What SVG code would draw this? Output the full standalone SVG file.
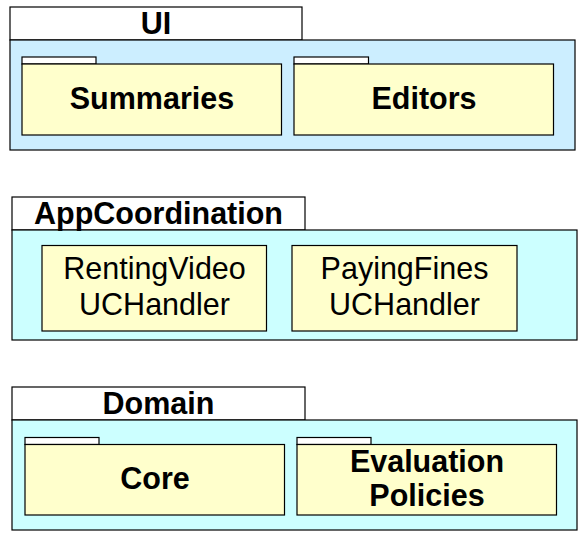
<svg xmlns="http://www.w3.org/2000/svg" width="583" height="537" viewBox="0 0 583 537">
<style>
rect{stroke:#000;stroke-width:1.2}
.tab{fill:#fff}
.ui{fill:#cceeff}
.cy{fill:#ccffff}
.pk{fill:#ffffcc}
text{font-family:"Liberation Sans",Arial,sans-serif;font-size:30.5px;text-anchor:middle;fill:#000}
.b{font-weight:bold}
</style>
<rect width="583" height="537" fill="#fff" style="stroke:none"/>
<g id="UI">
<rect class="tab" x="10" y="7" width="292" height="33"/>
<rect class="ui" x="10" y="40" width="565" height="110"/>
<text class="b" x="156" y="34">UI</text>
</g>
<g id="Summaries">
<rect class="tab" x="22" y="57" width="74" height="7"/>
<rect class="pk" x="22" y="64" width="259.5" height="71"/>
<text class="b" x="152" y="109">Summaries</text>
</g>
<g id="Editors">
<rect class="tab" x="294" y="57" width="74.5" height="7"/>
<rect class="pk" x="294" y="64" width="259.5" height="71"/>
<text class="b" x="424" y="109">Editors</text>
</g>
<g id="AppCoordination">
<rect class="tab" x="12" y="197" width="293" height="33"/>
<rect class="cy" x="12" y="230" width="565" height="110"/>
<text class="b" x="158.5" y="224">AppCoordination</text>
</g>
<g id="RentingVideoUCHandler">
<rect class="pk" x="42" y="245.5" width="224.5" height="85.5"/>
<text x="154.5" y="279">RentingVideo</text>
<text x="154.5" y="315">UCHandler</text>
</g>
<g id="PayingFinesUCHandler">
<rect class="pk" x="292" y="245.5" width="225" height="85.5"/>
<text x="404.5" y="279">PayingFines</text>
<text x="404.5" y="315">UCHandler</text>
</g>
<g id="Domain">
<rect class="tab" x="12" y="387" width="293" height="33"/>
<rect class="cy" x="12" y="420" width="565" height="110"/>
<text class="b" x="158.5" y="414">Domain</text>
</g>
<g id="Core">
<rect class="tab" x="25" y="437.5" width="74" height="7"/>
<rect class="pk" x="25" y="444.5" width="259.5" height="70.5"/>
<text class="b" x="155" y="489">Core</text>
</g>
<g id="EvaluationPolicies">
<rect class="tab" x="297" y="437.5" width="74" height="7"/>
<rect class="pk" x="297" y="444.5" width="259.5" height="70.5"/>
<text class="b" x="427" y="471.5">Evaluation</text>
<text class="b" x="427" y="506">Policies</text>
</g>
<g id="connectors"/>
</svg>
